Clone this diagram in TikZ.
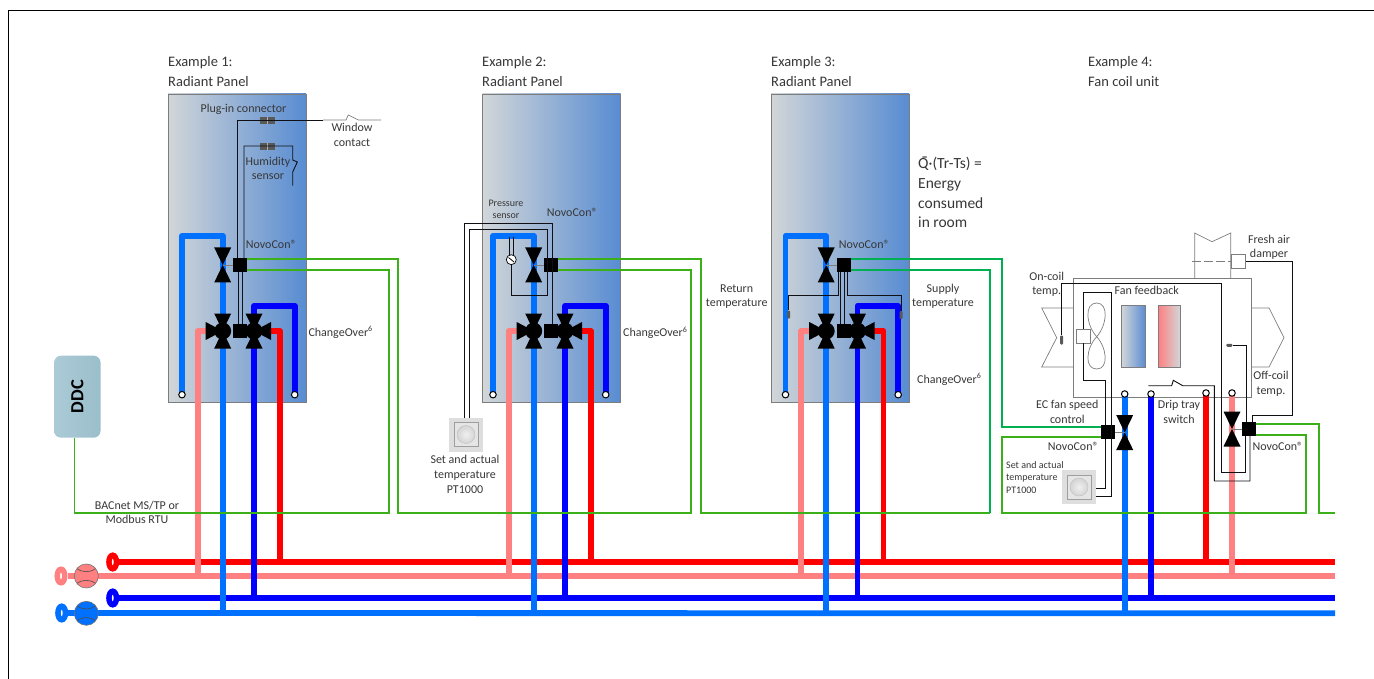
\documentclass[tikz,border=0pt]{standalone}
\usepackage{fontspec}
\setmainfont{Carlito}
\newfontfamily\markfont{DejaVu Sans}
\usetikzlibrary{shapes.geometric}

\definecolor{pipecold}{RGB}{0,112,255}
\definecolor{pipedeep}{RGB}{0,0,255}
\definecolor{pipehot}{RGB}{255,0,0}
\definecolor{pipepink}{RGB}{255,128,128}
\definecolor{wiregreen}{RGB}{60,176,24}
\definecolor{wireteal}{RGB}{0,176,80}
\definecolor{wiredark}{RGB}{15,15,20}
\definecolor{panelgrey}{RGB}{210,214,216}
\definecolor{panelblue}{RGB}{88,140,210}
\definecolor{ductgrey}{RGB}{125,125,125}
\definecolor{textgrey}{RGB}{55,55,55}
\definecolor{ddctop}{RGB}{155,190,203}
\definecolor{ddcbottom}{RGB}{170,203,214}

\begin{document}
\begin{tikzpicture}[x=1pt,y=-1pt]
    \tikzset{pipe/.style={line width=5.8pt,line join=round}}
    \tikzset{greenwire/.style={wiregreen,line width=1.3pt}}
    \tikzset{tealwire/.style={wireteal,line width=1.3pt}}
    \tikzset{wire/.style={wiredark,line width=.9pt}}
    \tikzset{thinwire/.style={ductgrey,line width=.7pt}}
    \tikzset{duct/.style={ductgrey,line width=.7pt}}
    \tikzset{lbl/.style={textgrey,inner sep=0pt,align=center,font=\fontsize{12}{14.6}\selectfont}}
    \tikzset{lblleft/.style={lbl,align=left,anchor=west}}
    \tikzset{small/.style={lbl,font=\fontsize{10}{12.3}\selectfont}}
    \tikzset{head/.style={lblleft,font=\fontsize{14.5}{20}\selectfont}}
    \tikzset{panel/.style={draw=ductgrey,left color=panelgrey,right color=panelblue,
        minimum width=138pt,minimum height=308pt,inner sep=0pt,outer sep=0pt}}
    \tikzset{actuator/.style={fill=black,minimum size=14pt,inner sep=0pt,outer sep=0pt}}
    \tikzset{endport/.style={circle,draw=black,fill=white,line width=1pt,minimum size=6.5pt,inner sep=0pt}}
    \tikzset{plug/.style={fill=black!65,minimum width=15pt,minimum height=7pt,inner sep=0pt,
        path picture={\draw[white!70!black,line width=.5pt] (path picture bounding box.north) -- (path picture bounding box.south);}}}
    \tikzset{probe/.style={fill=black!65,rounded corners=1pt,inner sep=0pt}}
    \tikzset{ring/.style={ellipse,draw=#1,fill=white,line width=5.5pt,minimum width=7.5pt,minimum height=13.5pt,inner sep=0pt}}
    \tikzset{pump/.style={circle,draw=black!55,fill=#1,line width=.6pt,minimum size=24pt,inner sep=0pt,
        path picture={\draw[black!70,line width=.6pt] ([shift={(-10,-8)}]path picture bounding box.center) .. controls +(6,5) and +(-6,5) .. +(20,0);
            \draw[black!70,line width=.6pt] ([shift={(-10,8)}]path picture bounding box.center) .. controls +(6,-5) and +(-6,-5) .. +(20,0);}}}
    \tikzset{thermo/.style={fill=black!13,minimum size=34pt,inner sep=0pt,outer sep=0pt,
        path picture={\fill[black!10] ([shift={(-12,-12)}]path picture bounding box.center) rectangle +(24,24);
            \draw[black!38,line width=.4pt] ([shift={(-12,-12)}]path picture bounding box.center) rectangle +(24,24);
            \draw[black!25,line width=.4pt,inner color=black!6,outer color=black!17] (path picture bounding box.center) circle (9);}}}
    \tikzset{twoway/.pic={
        \fill (-8.5,-17.5) -- (8.5,-17.5) -- (0,0) -- (8.5,17.5) -- (-8.5,17.5) -- (0,0) -- cycle;}}
    \tikzset{threeway/.pic={
        \fill (-8.5,-17.5) -- (8.5,-17.5) -- (0,0) -- (8.5,17.5) -- (-8.5,17.5) -- (0,0) -- cycle;
        \fill (-17,-9) -- (-17,9) -- (0,0) -- cycle;
        \fill (0,0) circle (8.5);}}
    \tikzset{panelpipes/.pic={
        \draw[pipe,pipepink] (197.7,576) -- (197.7,331) -- (215,331);
        \draw[pipe,pipehot] (280,562) -- (280,331) -- (262,331);
        \draw[pipe,pipecold] (182,394) -- (182,236) -- (222.7,236) -- (222.7,613);
        \draw[pipe,pipedeep] (254,598) -- (254,306) -- (294.7,306) -- (294.7,394);
        \node[endport] (-portleft) at (182,394.7) {};
        \node[endport] (-portright) at (294.7,394.7) {};
        \pic at (222.7,265) {twoway};
        \pic at (222.7,331) {threeway};
        \pic[xscale=-1] at (254,331) {threeway};
        \node[actuator] (-boxup) at (240,265) {};
        \node[actuator] (-boxlow) at (240,331) {};
        \draw[thinwire] (-boxup.west) -- (222.7,265);}}

    % mains
    \node[ring=pipehot] (ringhot) at (112.7,562) {};
    \node[ring=pipepink] (ringpink) at (61,576) {};
    \node[ring=pipedeep] (ringdeep) at (112.7,598) {};
    \node[ring=pipecold] (ringcold) at (61.7,613) {};
    \draw[pipe,pipehot] (ringhot.east) -- (1335,562);
    \draw[pipe,pipepink] (ringpink.east) -- (1335,576);
    \draw[pipe,pipedeep] (ringdeep.east) -- (1335,598);
    \draw[pipe,pipecold] (ringcold.east) -- (1335,613.3);
    \node[pump=pipepink] (pumppink) at (86.3,576) {};
    \node[pump=pipecold] (pumpcold) at (86.3,613.3) {};

    % frame
    \useasboundingbox (0,0) rectangle (1374,679);
    \draw[black,line width=.8pt] (8,679) -- (8,10) -- (1374,10);

    \node[panel] (panelone) at (237,248) {};
    \node[panel] (paneltwo) at (551.5,248) {};
    \node[panel] (panelthree) at (840,248) {};
    \pic (one) at (0,0) {panelpipes};
    \pic (two) at (311,0) {panelpipes};
    \pic (three) at (603.5,0) {panelpipes};

    % example 1
    \node[plug] (plugwindow) at (267.5,120.3) {};
    \node[plug] (plughumid) at (267.5,146.5) {};
    \draw[wire] ([xshift=-3pt]one-boxup.north) |- (323,120);
    \draw[thinwire] (323,120) -- (346,120) -- (348.3,115) -- (358.3,120) -- (381,120);
    \draw[wire] ([xshift=4pt]one-boxup.north) |- (292.7,146) -- (292.7,160) -- (297.3,162) -- (292.7,172) -- (292.7,185.7);
    \draw[wire] ([xshift=-2pt]one-boxup.south) -- ([xshift=-2pt]one-boxlow.north);
    \draw[wire] ([xshift=2pt]one-boxup.south) -- ([xshift=2pt]one-boxlow.north);
    \node[head] (headone) at (168,71.5) {Example 1:\\Radiant Panel};
    \node[lbl] (plugtext) at (243.5,109) {Plug-in connector};
    \node[lbl] (windowtext) at (352,134.8) {Window\\contact};
    \node[lbl] (humidtext) at (268,168.5) {Humidity\\sensor};
    \node[lblleft] (novoone) at (245.7,244) {NovoCon®};
    \node[lblleft] (changeone) at (308.3,332.5) {ChangeOver\textsuperscript{6}};

    % example 2
    \node[thermo] (thermotwo) at (466,434.5) {};
    \draw[wire] ([xshift=-1.3pt]thermotwo.north) |- (552.3,223.3) -- ([xshift=1.3pt]two-boxlow.north);
    \draw[wire] ([xshift=3.7pt]thermotwo.north) |- (547,229) |- (511.3,295.7) -- (511.3,264);
    \draw[wire] (509,236.7) -- (509,255);
    \draw[wire] (513.7,236.7) -- (513.7,255);
    \node[circle,draw=black,fill=white,line width=.7pt,minimum size=10pt,inner sep=0pt] (gauge) at (511.3,259.7) {};
    \draw[black,line width=.8pt] (508.5,257.5) -- (514,262);
    \node[head] (headtwo) at (482,71.5) {Example 2:\\Radiant Panel};
    \node[small] (pressuretext) at (506,209.5) {Pressure\\sensor};
    \node[lblleft] (novotwo) at (546.7,212) {NovoCon®};
    \node[lblleft] (changetwo) at (623,333) {ChangeOver\textsuperscript{6}};
    \node[lbl] (settwo) at (465,474.3) {Set and actual\\temperature\\PT1000};

    % example 3
    \node[probe,minimum width=3pt,minimum height=8pt] (probereturn) at (788.7,314.5) {};
    \node[probe,minimum width=3pt,minimum height=8pt] (probesupply) at (901,315) {};
    \draw[wire] ([xshift=-5.2pt]three-boxup.south) |- (788.7,295) -- (probereturn.north);
    \draw[wire] ([xshift=3.5pt]three-boxup.south) |- (901,295) -- (probesupply.north);
    \draw[wire] ([xshift=-3pt]three-boxup.south) -- ([xshift=-3pt]three-boxlow.north);
    \draw[wire] ([xshift=.5pt]three-boxup.south) -- ([xshift=.5pt]three-boxlow.north);
    \node[head] (headthree) at (771,71.5) {Example 3:\\Radiant Panel};
    \node[lblleft] (novothree) at (838.7,244) {NovoCon®};
    \node[lbl] (returntext) at (736.7,296.5) {Return\\temperature};
    \node[lbl] (supplytext) at (943,296.5) {Supply\\temperature};
    \node[lblleft] (changethree) at (917,379.5) {ChangeOver\textsuperscript{6}};
    \node[lblleft,font=\fontsize{15.5}{19.6}\selectfont] (energytext) at (918,192.5) {Q{\markfont\symbol{"0304}}·(Tr-Ts) =\\Energy\\consumed\\in room};

    % example 4
    \node[draw=ductgrey,line width=.7pt,minimum width=178pt,minimum height=118.3pt,inner sep=0pt,outer sep=0pt] (unit) at (1162,337.9) {};
    \draw[duct] (1073,308) -- (1041.7,308) -- (1056.7,337.7) -- (1041.7,367) -- (1073,367);
    \draw[duct] (1251,308) -- (1269,308) -- (1284,337.7) -- (1269,367) -- (1251,367);
    \draw[duct] (1194.7,278.7) -- (1194.7,233) -- (1212,241.7) -- (1230.7,233) -- (1230.7,278.7);
    \draw[duct,dashed,dash pattern=on 9pt off 3pt] (1191.7,261) -- (1232,261);
    \node[draw=ductgrey,line width=.7pt,fill=white,minimum size=14pt,inner sep=0pt,outer sep=0pt] (damper) at (1238.7,261) {};
    \node[draw=ductgrey,line width=.7pt,left color=panelgrey,right color=panelblue,minimum width=24.4pt,minimum height=62.4pt,inner sep=0pt] (coilcold) at (1133.5,336.5) {};
    \node[draw=ductgrey,line width=.7pt,left color=pipepink,right color=panelgrey,minimum width=21.7pt,minimum height=62.4pt,inner sep=0pt] (coilhot) at (1169.2,336.5) {};
    \draw[duct] (1096.7,336.7) .. controls (1086,325) and (1084,303) .. (1096.7,303) .. controls (1109,303) and (1107,325) .. (1096.7,336.7);
    \draw[duct] (1096.7,336.7) .. controls (1086,348) and (1084,369) .. (1096.7,369) .. controls (1109,369) and (1107,348) .. (1096.7,336.7);
    \node[draw=ductgrey,line width=.7pt,fill=white,minimum size=14.4pt,inner sep=0pt,outer sep=0pt] (motor) at (1083.5,336.2) {};
    \draw[pipe,pipecold] (1124.7,613) -- (1124.7,394);
    \draw[pipe,pipedeep] (1151,598) -- (1151,394);
    \draw[pipe,pipehot] (1206,562) -- (1206,393);
    \draw[pipe,pipepink] (1232,576) -- (1232,393);
    \node[endport] (portcold) at (1124.7,394) {};
    \node[endport] (portdeep) at (1151,394) {};
    \node[endport] (porthot) at (1206,393) {};
    \node[endport] (portpink) at (1232,393) {};
    \pic at (1124.7,432.5) {twoway};
    \pic at (1232,429) {twoway};
    \node[actuator] (boxfan) at (1108,432) {};
    \node[actuator] (boxair) at (1249,429) {};
    \draw[thinwire] (boxfan.east) -- (1124.7,432);
    \draw[thinwire] (boxair.west) -- (1232,429);
    \node[thermo] (thermofan) at (1079,487) {};
    \node[probe,minimum width=3pt,minimum height=9pt] (probeon) at (1061.7,340) {};
    \node[probe,minimum width=6pt,minimum height=3pt] (probeoff) at (1229.3,345.3) {};
    \draw[wire] (probeon.north) |- (1221,283.3) |- ([xshift=-3.3pt]boxair.south |- 0,472.3) -- ([xshift=-3.3pt]boxair.south);
    \draw[wire] (probeoff.east) -| ([xshift=-3pt]boxair.north);
    \draw[wire] ([xshift=-2.7pt]boxfan.north) -- (1105.3,380.3) -| (motor.south);
    \draw[wire] (motor.north) |- (1111,292.7) |- ([yshift=-9.7pt]thermofan.east);
    \draw[wire] ([xshift=-2.7pt]boxfan.south) |- ([yshift=-1pt]thermofan.east);
    \draw[wire] (1148.3,385.7) -- (1171.7,385.7) -- (1173.3,380.3) -- (1182.7,385.7) -- (1214.3,385.7) |- (1250,481) -- ([xshift=1pt]boxair.south);
    \draw[wire] (damper.east) -- (1292,261) |- (1252,415) -- ([xshift=3pt]boxair.north);
    \node[head] (headfour) at (1088,71.5) {Example 4:\\Fan coil unit};
    \node[lbl] (oncoil) at (1046.7,284.5) {On-coil\\temp.};
    \node[lbl] (fanfeed) at (1146.7,290.7) {Fan feedback};
    \node[lbl] (freshair) at (1269,247.5) {Fresh air\\damper};
    \node[lbl] (offcoil) at (1271,384) {Off-coil\\temp.};
    \node[lbl] (ecfan) at (1067.3,412) {EC fan speed\\control};
    \node[lbl] (driptray) at (1179,412) {Drip tray\\switch};
    \node[lblleft] (novofan) at (1047.7,446) {NovoCon®};
    \node[lblleft] (novoair) at (1252.3,446) {NovoCon®};
    \node[small,align=left,anchor=west] (setfan) at (1006,477.3) {Set and actual\\temperature\\PT1000};

    % bus
    \node[left color=ddcbottom,right color=ddctop,rounded corners=7pt,minimum width=82pt,minimum height=46.5pt,inner sep=0pt,outer sep=0pt,rotate=90,font=\fontsize{18.5}{20}\selectfont\bfseries,text=black] (ddc) at (77.3,396.7) {DDC};
    \draw[greenwire] ([xshift=-3pt]ddc.west) |- (389,513) -- (389,270) -- ([yshift=-5pt]one-boxup.east);
    \draw[greenwire] ([yshift=6pt]one-boxup.east) -| (398,513) -| (691,270) -- ([yshift=-5pt]two-boxup.east);
    \draw[greenwire] ([yshift=6pt]two-boxup.east) -| (701,513) -- (990,513);
    \draw[tealwire] (990,513) -- (990,270) -- ([yshift=-5pt]three-boxup.east);
    \draw[tealwire] ([yshift=6pt]three-boxup.east) -| (1002,427) -- ([yshift=5pt]boxfan.west);
    \draw[greenwire] ([yshift=-5pt]boxfan.west) -| (1002,513) -| (1306,435) -- ([yshift=-6pt]boxair.east);
    \draw[greenwire] ([yshift=5pt]boxair.east) -- (1319,424) -- (1319,513) -- (1335,513);
    \node[lbl] (bustext) at (137,512.5) {BACnet MS/TP or\\Modbus RTU};
\end{tikzpicture}
\end{document}
